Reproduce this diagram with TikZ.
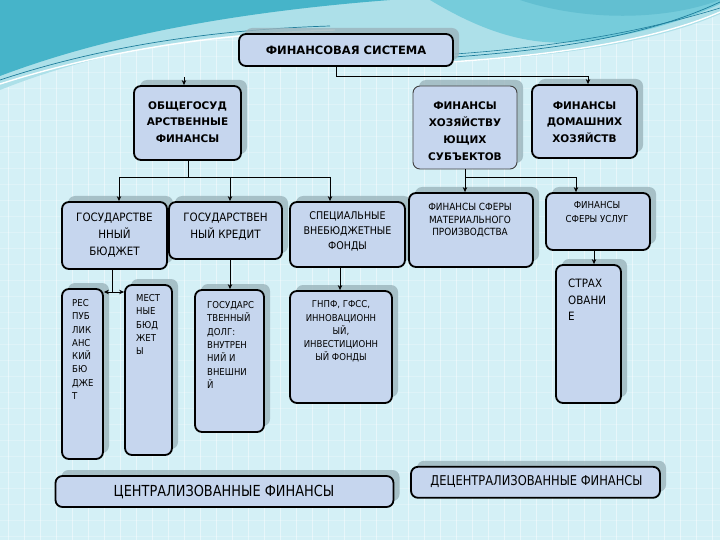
\documentclass[tikz,border=0pt]{standalone}
\usepackage{fontspec}
\setmainfont{DejaVu Sans}
\newfontfamily\cnd[FakeStretch=0.9]{DejaVu Sans}
\newfontfamily\cndb[FakeStretch=0.85]{DejaVu Sans}
\usetikzlibrary{shadows,arrows.meta}
\definecolor{bgc}{RGB}{212,240,246}
\definecolor{tealA}{RGB}{70,180,201}
\definecolor{tealB}{RGB}{118,204,219}
\definecolor{tealL}{RGB}{30,125,155}
\definecolor{boxc}{RGB}{198,214,238}
\definecolor{shc}{RGB}{155,180,188}
\tikzset{
  bx/.style={draw=black, line width=1.8pt, rounded corners=7pt, fill=boxc, inner sep=0pt,
    drop shadow={shadow xshift=6pt, shadow yshift=6pt, fill=shc, opacity=0.8}},
  thinbx/.style={bx, line width=0.9pt, draw=black!75},
  txt/.style={inner sep=0pt, text=black},
  conn/.style={line width=0.8pt, draw=black},
  arr/.style={conn, -{Stealth[length=5pt,width=4.5pt]}},
  gridln/.style={white, opacity=0.45, line width=0.5pt}
}
\begin{document}
\begin{tikzpicture}[x=1pt,y=-1pt]
\useasboundingbox (0,0) rectangle (720,540);
% background
\fill[bgc] (0,0) rectangle (720,540);
\foreach \i in {8,24,...,720} \draw[gridln] (\i,0) -- (\i,540);
\foreach \j in {8,24,...,540} \draw[gridln, opacity=0.25] (0,\j) -- (720,\j);
% top waves
\fill[tealB!60] (0,0) -- (0,90) .. controls (100,50) and (220,30) .. (330,32) -- (450,62) .. controls (570,56) and (660,40) .. (720,14) -- (720,0) -- cycle;
\fill[tealA] (0,0) -- (0,76) .. controls (90,42) and (210,14) .. (390,0) -- cycle;
\fill[tealB] (430,0) .. controls (480,30) and (525,46) .. (575,42) .. controls (640,36) and (690,18) .. (720,4) -- (720,0) -- cycle;
\fill[tealA!85] (520,0) .. controls (580,20) and (660,22) .. (720,0) -- cycle;
\draw[tealL, line width=0.7pt] (0,80) .. controls (90,50) and (200,30) .. (330,26);
\draw[white, line width=1.4pt] (0,84) .. controls (100,52) and (210,34) .. (335,30);
\draw[tealL, line width=0.7pt] (440,58) .. controls (560,50) and (650,35) .. (720,2);
\draw[tealL, line width=0.6pt] (455,54) .. controls (570,46) and (655,28) .. (720,8);
\draw[white, line width=1.4pt] (450,62) .. controls (570,54) and (660,38) .. (720,12);

% boxes
\node[bx, minimum width=214pt, minimum height=32pt] (fs) at (346,50) {};
\node[bx, minimum width=107pt, minimum height=74pt] (og) at (187.5,123) {};
\node[thinbx, minimum width=104pt, minimum height=83pt] (hs) at (465,127.5) {};
\node[bx, minimum width=105pt, minimum height=73pt] (dh) at (584.5,121.5) {};

\node[bx, minimum width=105pt, minimum height=67pt] (gb) at (114.5,235.5) {};
\node[bx, minimum width=113pt, minimum height=57pt] (gk) at (225.5,230.5) {};
\node[bx, minimum width=115pt, minimum height=65pt] (sv) at (347.5,234.5) {};
\node[bx, minimum width=124pt, minimum height=74pt] (mp) at (471,230) {};
\node[bx, minimum width=104pt, minimum height=57pt] (su) at (598,221.5) {};

\node[bx, minimum width=41pt, minimum height=170pt] (rb) at (82.5,374) {};
\node[bx, minimum width=47pt, minimum height=170pt] (mb) at (148.5,370) {};
\node[bx, minimum width=69pt, minimum height=142pt] (gd) at (229.5,361) {};
\node[bx, minimum width=102pt, minimum height=112pt] (gn) at (341,347) {};
\node[bx, minimum width=65pt, minimum height=138pt] (st) at (588.5,334) {};

\node[bx, minimum width=338pt, minimum height=31pt] (cf) at (224.5,491.5) {};
\node[bx, minimum width=249pt, minimum height=31pt] (df) at (535.5,482.3) {};

% texts
\node[txt, font=\bfseries\fontsize{11.5}{14}\selectfont] (fst) at (346,50) {ФИНАНСОВАЯ СИСТЕМА};
\node[txt, align=center, font=\bfseries\fontsize{10.5}{16.3}\selectfont] (ogt) at (187.5,122) {ОБЩЕГОСУД\\АРСТВЕННЫЕ\\ФИНАНСЫ};
\node[txt, align=center, font=\bfseries\fontsize{10.5}{17}\selectfont] (hst) at (465,131) {ФИНАНСЫ\\ХОЗЯЙСТВУ\\ЮЩИХ\\СУБЪЕКТОВ};
\node[txt, align=center, font=\bfseries\fontsize{10.5}{16.3}\selectfont] (dht) at (584.5,122) {ФИНАНСЫ\\ДОМАШНИХ\\ХОЗЯЙСТВ};

\node[txt, align=center, font=\cnd\fontsize{11.5}{16.7}\selectfont] (gbt) at (114.5,235) {ГОСУДАРСТВЕ\\ННЫЙ\\БЮДЖЕТ};
\node[txt, align=center, font=\cnd\fontsize{11.5}{16.7}\selectfont] (gkt) at (225.5,226.5) {ГОСУДАРСТВЕН\\НЫЙ КРЕДИТ};
\node[txt, align=center, font=\cnd\fontsize{10.6}{15}\selectfont] (svt) at (347.5,231) {СПЕЦИАЛЬНЫЕ\\ВНЕБЮДЖЕТНЫЕ\\ФОНДЫ};
\node[txt, align=center, font=\cnd\fontsize{9.9}{12.5}\selectfont] (mpt) at (470,220.5) {ФИНАНСЫ СФЕРЫ\\МАТЕРИАЛЬНОГО\\ПРОИЗВОДСТВА};
\node[txt, align=center, font=\cnd\fontsize{9.6}{14}\selectfont] (sut) at (597,212) {ФИНАНСЫ\\СФЕРЫ УСЛУГ};

\node[txt, anchor=west, align=left, font=\cnd\fontsize{9.5}{13.3}\selectfont] (rbt) at (72,349.5) {РЕС\\ПУБ\\ЛИК\\АНС\\КИЙ\\БЮ\\ДЖЕ\\Т};
\node[txt, anchor=west, align=left, font=\cnd\fontsize{9.5}{13.3}\selectfont] (mbt) at (136,324.6) {МЕСТ\\НЫЕ\\БЮД\\ЖЕТ\\Ы};
\node[txt, anchor=west, align=left, font=\cnd\fontsize{9.5}{13.3}\selectfont] (gdt) at (207,345) {ГОСУДАРС\\ТВЕННЫЙ\\ДОЛГ:\\ВНУТРЕН\\НИЙ И\\ВНЕШНИ\\Й};
\node[txt, align=center, font=\cnd\fontsize{9.5}{13.3}\selectfont] (gnt) at (341,331.6) {ГНПФ, ГФСС,\\ИННОВАЦИОНН\\ЫЙ,\\ИНВЕСТИЦИОНН\\ЫЙ ФОНДЫ};
\node[txt, anchor=west, align=left, font=\cnd\fontsize{11.5}{16.7}\selectfont] (stt) at (568,300) {СТРАХ\\ОВАНИ\\Е};

\node[txt, font=\cndb\fontsize{15.2}{17}\selectfont] (cft) at (224,492.3) {ЦЕНТРАЛИЗОВАННЫЕ ФИНАНСЫ};
\node[txt, font=\cndb\fontsize{13.5}{15}\selectfont] (dft) at (536.5,481.7) {ДЕЦЕНТРАЛИЗОВАННЫЕ ФИНАНСЫ};

% connectors
\coordinate (c1) at (336,76);
\coordinate (c2) at (588,76);
\draw[arr] (fs.south -| c1) -- (c1) -- (c2) -- (dh.north -| c2);
\coordinate (c3) at (184,77);
\draw[arr] (c3) -- (og.north -| c3);

\coordinate (c4) at (188,177);
\coordinate (c5) at (119,177);
\coordinate (c6) at (230,177);
\coordinate (c7) at (330,177);
\draw[conn] (og.south -| c4) -- (c4);
\draw[conn] (c5) -- (c7);
\draw[arr] (c5) -- (gb.north -| c5);
\draw[arr] (c6) -- (gk.north -| c6);
\draw[arr] (c7) -- (sv.north -| c7);

\coordinate (c8) at (465,177);
\coordinate (c9) at (576,177);
\draw[arr] (hs.south -| c8) -- (mp.north -| c8);
\draw[arr] (c8) -- (c9) -- (su.north -| c9);

\coordinate (c10) at (594,258);
\draw[arr] (su.south -| c10) -- (st.north -| c10);

\coordinate (j) at (112,292);
\draw[conn] (gb.south -| j) -- (j);
\draw[arr] (j) -- (rb.east |- j);
\draw[arr] (j) -- (mb.west |- j);

\coordinate (c11) at (230,275);
\draw[arr] (gk.south -| c11) -- (gd.north -| c11);
\coordinate (c12) at (340,280);
\draw[arr] (sv.south -| c12) -- (gn.north -| c12);
\end{tikzpicture}
\end{document}
